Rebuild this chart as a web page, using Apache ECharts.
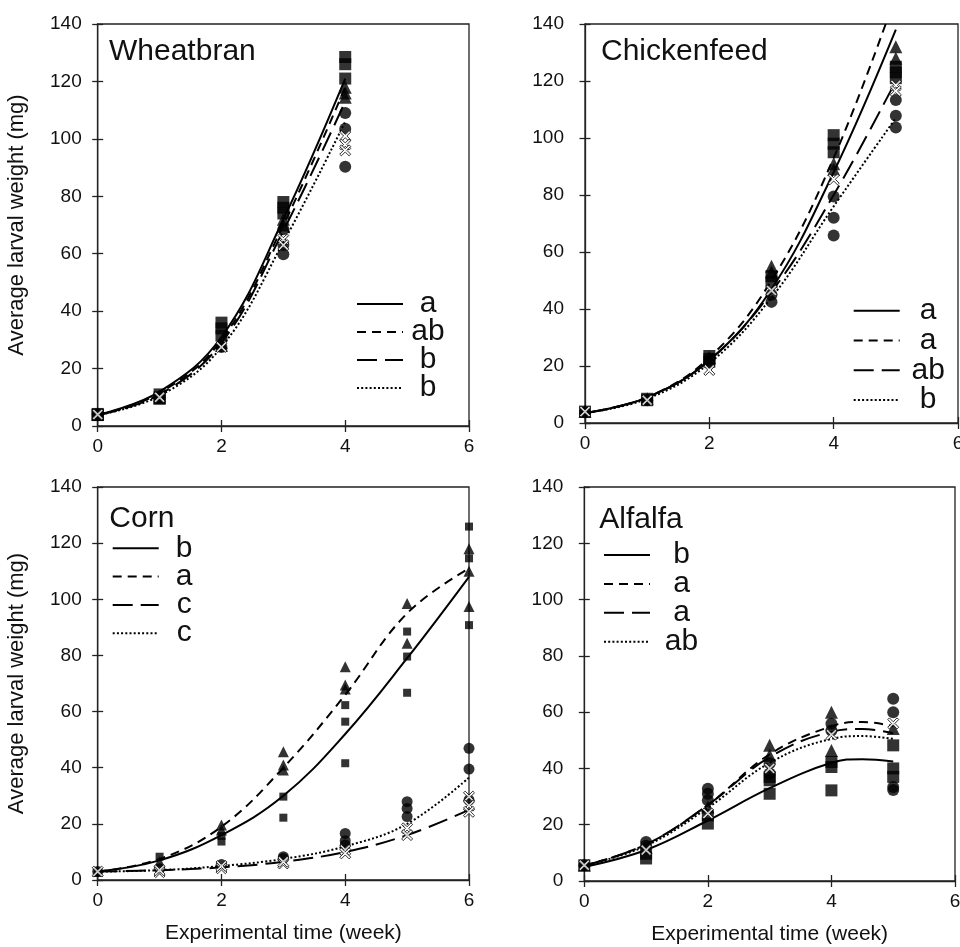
<!DOCTYPE html>
<html><head><meta charset="utf-8">
<script src="https://cdn.jsdelivr.net/npm/echarts@6/dist/echarts.min.js"></script>
<style>html,body{margin:0;padding:0;background:#fff}#c{width:960px;height:947px}</style>
</head><body><div id="c"></div>
<script>
// ---------------- DATA ----------------
const xTicks = [0, 2, 4, 6];
const yTicks = [0, 20, 40, 60, 80, 100, 120, 140];
const panelNames = ['Wheatbran', 'Chickenfeed', 'Corn', 'Alfalfa'];
const xTitle = 'Experimental time (week)';
const yTitle = 'Average larval weight (mg)';

// Wheatbran scatter [week, mg]
const wheatSquare = [[0,4],[0,3.8],[0,4.2],[1,11],[1,10],[1,9.5],[2,36],[2,34],[2,31.5],[3,78],[3,76],[3,74],[4,128.5],[4,126],[4,121]];
const wheatTriangle = [[0,4],[1,10.5],[1,9.8],[2,29],[2,28],[3,72],[3,70],[4,118],[4,116],[4,114.5]];
const wheatCross = [[0,4],[1,10],[2,27.5],[3,65],[3,63],[4,101],[4,98],[4,96]];
const wheatCircle = [[0,4],[1,10],[2,27.5],[3,68.5],[3,63],[3,59.8],[4,109],[4,103.5],[4,90.3]];
// Wheatbran fitted curves
const wheatSolid = [[0,3.8],[1,12],[2,31],[3,72],[4,121]];
const wheatShortDash = [[0,3.8],[1,11.5],[2,30],[3,70],[4,118]];
const wheatLongDash = [[0,3.8],[1,11],[2,29],[3,68],[4,113]];
const wheatDotted = [[0,3.8],[1,10.5],[2,27.5],[3,64],[4,106]];
const wheatLetters = ['a', 'ab', 'b', 'b'];

// Chickenfeed scatter
const chickSquare = [[0,4],[1,8],[1,8.5],[2,23.5],[2,22.5],[2,21.5],[3,51.5],[3,49.5],[4,101],[4,98],[4,95],[5,125],[5,123],[5,121]];
const chickTriangle = [[0,4],[1,8.5],[2,23],[3,55],[3,53],[4,91],[4,89],[5,132],[5,128]];
const chickCross = [[0,4],[1,8],[2,18.6],[3,46.5],[4,85.5],[5,118.5],[5,116.5]];
const chickCircle = [[0,3.8],[1,8],[2,21],[3,45],[3,42.5],[4,79.5],[4,72],[4,65.8],[5,113.3],[5,107.8],[5,103.7]];
// Chickenfeed curves
const chickSolid = [[0,3.5],[1,9],[2,22],[3,47],[4,88],[5,138]];
const chickShortDash = [[0,3.5],[1,9],[2,23],[3,50],[4,93],[5,150]];
const chickLongDash = [[0,3.5],[1,9],[2,22],[3,46],[4,80],[5,120]];
const chickDotted = [[0,3.5],[1,8.5],[2,21],[3,44],[4,76],[5,107]];
const chickLetters = ['a', 'a', 'ab', 'b'];

// Corn scatter
const cornSquare = [[0,3],[1,8.3],[2,15.7],[2,13.7],[3,29.7],[3,22.2],[4,62.3],[4,56.4],[4,41.6],[5,88.5],[5,79.6],[5,66.7],[6,125.9],[6,114.6],[6,90.8]];
const cornTriangle = [[0,3],[1,6.5],[2,19.6],[2,17.8],[3,45.7],[3,41],[3,39.2],[4,76],[4,69.5],[4,68],[5,98.5],[5,84.3],[6,118],[6,110],[6,97.4]];
const cornCircle = [[0,3],[1,4],[2,5.5],[3,8.3],[3,7.7],[4,16.6],[4,14],[4,12.5],[5,27.9],[5,25.5],[5,22.6],[6,46.9],[6,39.5],[6,28.5]];
const cornCross = [[0,3],[1,2.8],[1,3.5],[2,4.2],[2,5],[3,5.9],[3,6.5],[4,10.7],[4,9.5],[5,18.4],[5,16],[6,29.7],[6,26.5],[6,24.3]];
// Corn curves
const cornSolid = [[0,3],[1,7],[2,16],[3,30],[4,52],[5,79],[6,108]];
const cornShortDash = [[0,3],[1,7.5],[2,19],[3,40],[4,66],[5,95],[6,111]];
const cornLongDash = [[0,3],[1,3.5],[2,4.5],[3,6.5],[4,10],[5,16],[6,25]];
const cornDotted = [[0,3],[1,3.5],[2,5],[3,7.5],[4,12],[5,20],[6,36.5]];
const cornLetters = ['b', 'a', 'c', 'c'];

// Alfalfa scatter
const alfSquare = [[0,5.6],[1,8],[1,9.7],[2,23.3],[2,20.4],[3,37],[3,35.8],[3,31],[4,42.3],[4,40.5],[4,32.2],[5,48.2],[5,40],[5,37]];
const alfTriangle = [[0,5.6],[1,12],[2,26.3],[3,48.2],[3,44.7],[4,60],[4,46.4],[5,54.2]];
const alfCircle = [[0,5.6],[1,13.9],[1,12.5],[2,32.8],[2,31],[2,28.7],[3,41.8],[3,38.2],[4,55.9],[4,53.5],[5,64.8],[5,60],[5,33.4],[5,32.3]];
const alfCross = [[0,5.6],[1,11],[2,24],[3,40],[4,52],[5,56]];
// Alfalfa curves
const alfSolid = [[0,5],[1,11],[2,21.5],[3,33],[4,42],[4.5,43.3],[5,42.5]];
const alfShortDash = [[0,5.5],[1,13],[2,27],[3,45],[4,55],[4.5,56.5],[5,55]];
const alfLongDash = [[0,5.5],[1,13],[2,27],[3,44],[4,53],[4.5,54],[5,52.5]];
const alfDotted = [[0,5.5],[1,12.5],[2,26],[3,42],[4,50.5],[4.5,51.5],[5,50.5]];
const alfLetters = ['b', 'a', 'a', 'ab'];

// ---------------- LAYOUT / STYLE ----------------
const FONT = 'Liberation Sans, Arial, sans-serif';
const grids = [
  {left: 97.7, top: 24, width: 371.3, height: 402},
  {left: 585, top: 24, width: 373, height: 399},
  {left: 97.7, top: 487, width: 371.3, height: 393},
  {left: 584.3, top: 487, width: 370.7, height: 394}
];
const titlePos = [{left: 109, top: 36.7}, {left: 601, top: 36.7}, {left: 109.3, top: 503.3}, {left: 599.3, top: 504.3}];
const legendPos = [
  {left: 356, top: 289, gap: -2, w: 40},
  {left: 852.7, top: 295.7, gap: -0.2, w: 47},
  {left: 111.7, top: 533.3, gap: -1.7, w: 41},
  {left: 603, top: 540, gap: -1.1, w: 53}
];
const bigSizes = {rect: 12, triangle: 13, circle: 12, cross: 11};
const cornSizes = {rect: 8, triangle: 11, circle: 11, cross: 11};
const markerSizes = [bigSizes, bigSizes, cornSizes, bigSizes];
const CROSS = 'path://M0,1.5 L1.5,0 L5,3.5 L8.5,0 L10,1.5 L6.5,5 L10,8.5 L8.5,10 L5,6.5 L1.5,10 L0,8.5 L3.5,5 Z';
const lineTypes = ['solid', [9, 6], [20, 8], [2, 2.2]];

const panels = [
  {scatter: [wheatSquare, wheatTriangle, wheatCircle, wheatCross], curves: [wheatSolid, wheatShortDash, wheatLongDash, wheatDotted], letters: wheatLetters},
  {scatter: [chickSquare, chickTriangle, chickCircle, chickCross], curves: [chickSolid, chickShortDash, chickLongDash, chickDotted], letters: chickLetters},
  {scatter: [cornSquare, cornTriangle, cornCircle, cornCross], curves: [cornSolid, cornShortDash, cornLongDash, cornDotted], letters: cornLetters},
  {scatter: [alfSquare, alfTriangle, alfCircle, alfCross], curves: [alfSolid, alfShortDash, alfLongDash, alfDotted], letters: alfLetters}
];
const symbolKinds = ['rect', 'triangle', 'circle', 'cross'];

const option = {
  animation: false,
  backgroundColor: '#fff',
  textStyle: {fontFamily: FONT},
  grid: [], xAxis: [], yAxis: [], series: [], title: [], legend: []
};

const letterOf = {};
panels.forEach((p, i) => {
  const g = grids[i];
  option.grid.push({left: g.left, top: g.top, width: g.width, height: g.height, show: true,
    borderColor: '#222', borderWidth: 1.3, backgroundColor: 'transparent', containLabel: false, outerBoundsMode: 'none'});
  const bottomRow = i >= 2, leftCol = i % 2 === 0;
  const xBase = {type: 'value', gridIndex: i, min: 0, max: 6, interval: 2, position: 'bottom',
    splitLine: {show: false}};
  option.xAxis.push(Object.assign({}, xBase, {
    axisLine: {show: true, lineStyle: {color: '#222', width: 1.3}},
    axisTick: {show: true, inside: false, length: 6, lineStyle: {color: '#222', width: 1.3}},
    axisLabel: {show: true, fontSize: 19, color: '#111', margin: 11, fontFamily: FONT},
    name: bottomRow ? xTitle : '', nameLocation: 'middle', nameGap: 43,
    nameTextStyle: {fontSize: 21, color: '#111', fontFamily: FONT}
  }));
  option.xAxis.push(Object.assign({}, xBase, {
    axisLine: {show: false}, axisLabel: {show: false},
    axisTick: {show: true, inside: true, length: 6, lineStyle: {color: '#222', width: 1.3}}
  }));
  const yBase = {type: 'value', gridIndex: i, min: 0, max: 140, interval: 20, position: 'left', splitLine: {show: false}};
  option.yAxis.push(Object.assign({}, yBase, {
    axisLine: {show: true, lineStyle: {color: '#222', width: 1.3}},
    axisTick: {show: true, inside: false, length: 5.5, lineStyle: {color: '#222', width: 1.3}},
    axisLabel: {show: true, fontSize: 19, color: '#111', margin: leftCol ? 16 : 21, fontFamily: FONT},
    name: leftCol ? yTitle : '', nameLocation: 'middle', nameGap: 70, nameRotate: 90,
    nameTextStyle: {fontSize: 22, color: '#111', fontFamily: FONT}
  }));
  option.yAxis.push(Object.assign({}, yBase, {
    axisLine: {show: false}, axisLabel: {show: false},
    axisTick: {show: true, inside: true, length: 5.5, lineStyle: {color: '#222', width: 1.3}}
  }));

  option.title.push({text: panelNames[i], left: titlePos[i].left, top: titlePos[i].top, padding: 0,
    textStyle: {fontSize: 30, fontWeight: 'normal', color: '#111', fontFamily: FONT, lineHeight: 30}});

  const names = [];
  p.curves.forEach((c, k) => {
    const nm = panelNames[i] + ' curve ' + k;
    names.push(nm);
    letterOf[nm] = p.letters[k];
    option.series.push({type: 'line', name: nm, xAxisIndex: 2 * i, yAxisIndex: 2 * i, data: c,
      smooth: 0.4, symbol: 'none', clip: true, z: 3,
      itemStyle: {color: 'rgba(0,0,0,0)'},
      lineStyle: {color: '#000', width: 2, type: lineTypes[k]}});
  });
  p.scatter.forEach((s, k) => {
    const kind = symbolKinds[k];
    const isCross = kind === 'cross';
    option.series.push({type: 'scatter', name: panelNames[i] + ' pts ' + k, xAxisIndex: 2 * i, yAxisIndex: 2 * i,
      data: s, symbol: isCross ? CROSS : kind, symbolSize: markerSizes[i][kind], z: 4,
      itemStyle: isCross ? {color: '#fff', borderColor: '#000', borderWidth: 1} : {color: '#000'}});
  });

  const L = legendPos[i];
  option.legend.push({data: names, orient: 'vertical', left: L.left, top: L.top, padding: 0,
    itemWidth: 46, itemHeight: 12, itemGap: L.gap, selectedMode: false,
    itemStyle: {color: 'rgba(0,0,0,0)', borderWidth: 0, opacity: 0},
    lineStyle: {color: '#000', width: 2},
    formatter: nm => '{t|' + letterOf[nm] + '}',
    textStyle: {rich: {t: {fontSize: 30, lineHeight: 30, width: L.w, align: 'center', color: '#111', fontFamily: FONT}}}
  });
});

const chart = echarts.init(document.getElementById('c'), null, {renderer: 'canvas'});
chart.setOption(option);
</script></body></html>
